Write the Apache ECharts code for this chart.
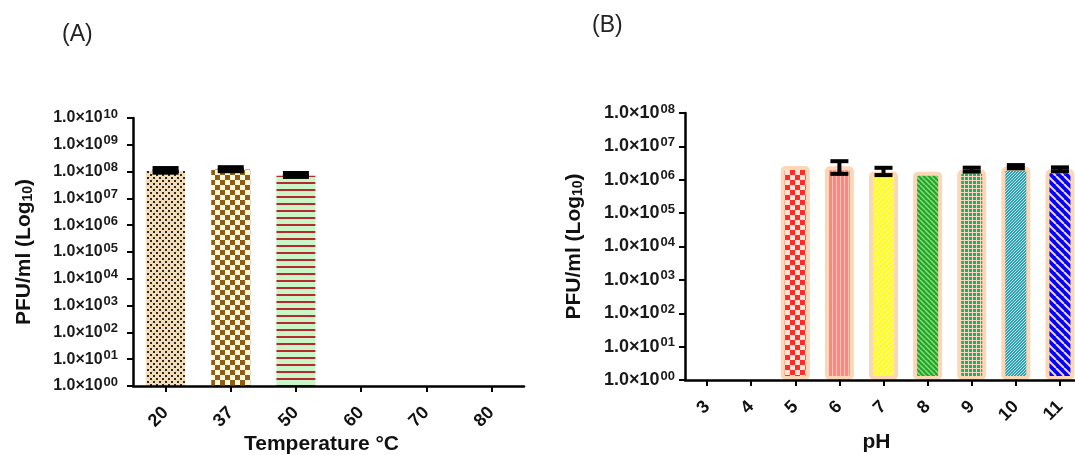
<!DOCTYPE html>
<html>
<head>
<meta charset="utf-8">
<script src="https://cdn.jsdelivr.net/npm/echarts@6/dist/echarts.min.js"></script>
<style>
html, body { margin: 0; padding: 0; background: #fff; }
#chart { width: 1075px; height: 455px; }
</style>
</head>
<body>
<div id="chart"></div>
<script>
// panel A: temperature
var temps = ['20', '37', '50', '60', '70', '80'];
var tempMean = [1.05e8, 1.2e8, 7.0e7, null, null, null];
var tempLow = [9.5e7, 1.08e8, 6.6e7, null, null, null];
var tempHigh = [1.3e8, 1.4e8, 8.5e7, null, null, null];

// panel B: pH
var phs = ['3', '4', '5', '6', '7', '8', '9', '10', '11'];
var phMean = [null, null, 2.6e6, 2.55e6, 1.75e6, 1.75e6, 2.0e6, 2.45e6, 2.05e6];
var phLow = [null, null, null, 1.5e6, 1.38e6, null, 1.75e6, 2.2e6, 1.8e6];
var phHigh = [null, null, null, 3.6e6, 2.28e6, null, 2.3e6, 2.75e6, 2.35e6];

var FONT = '"Liberation Sans", Arial, sans-serif';

// ---- pattern helpers ----
function mk(w, h) {
  var c = document.createElement('canvas');
  c.width = w; c.height = h;
  return c;
}
function checker(cell, c1, c2) {
  var c = mk(cell * 2, cell * 2), g = c.getContext('2d');
  g.fillStyle = c2; g.fillRect(0, 0, cell * 2, cell * 2);
  g.fillStyle = c1;
  g.fillRect(0, 0, cell, cell);
  g.fillRect(cell, cell, cell, cell);
  return c;
}
function dots(step, r, bg, fg) {
  var c = mk(step * 2, step * 2), g = c.getContext('2d');
  g.fillStyle = bg; g.fillRect(0, 0, step * 2, step * 2);
  g.fillStyle = fg;
  g.fillRect(0, 0, r, r);
  g.fillRect(step, step, r, r);
  return c;
}
function hstripes(step, lw, bg, fg) {
  var c = mk(4, step), g = c.getContext('2d');
  g.fillStyle = bg; g.fillRect(0, 0, 4, step);
  g.fillStyle = fg; g.fillRect(0, 0, 4, lw);
  return c;
}
function vstripes(step, lw, bg, fg) {
  var c = mk(step, 4), g = c.getContext('2d');
  g.fillStyle = bg; g.fillRect(0, 0, step, 4);
  g.fillStyle = fg; g.fillRect(0, 0, lw, 4);
  return c;
}
function grid2(step, lw, bg, fg) {
  var c = mk(step, step), g = c.getContext('2d');
  g.fillStyle = bg; g.fillRect(0, 0, step, step);
  g.fillStyle = fg;
  g.fillRect(0, 0, step, lw);
  g.fillRect(0, 0, lw, step);
  return c;
}
function diag(step, lw, bg, fg, back) {
  var c = mk(step, step), g = c.getContext('2d');
  g.fillStyle = bg; g.fillRect(0, 0, step, step);
  g.strokeStyle = fg; g.lineWidth = lw;
  for (var k = -1; k <= 1; k++) {
    g.beginPath();
    if (back) { g.moveTo(k * step, 0); g.lineTo(k * step + step, step); }
    else { g.moveTo(k * step, step); g.lineTo(k * step + step, 0); }
    g.stroke();
  }
  return c;
}
function pat(c) { return { image: c, repeat: 'repeat' }; }

var tempFills = [
  pat(dots(3, 2, '#f4dcb6', '#2a2a2a')),
  pat(checker(5, '#8f5c12', '#fff8de')),
  pat(hstripes(7, 2, '#c9f5c9', '#b52a2a'))
];
var phFills = [
  null, null,
  pat(checker(5, '#ff2b2b', '#ffe2d0')),
  pat(vstripes(4, 1, '#ff8585', '#ffc4b4')),
  pat(diag(5, 1.5, '#ffff10', '#fff4a0', false)),
  pat(diag(5, 1.5, '#1ea81e', '#8ed88e', true)),
  pat(grid2(4, 1, '#14b36a', '#f4d8c0')),
  pat(diag(3, 1, '#2da2b4', '#bfe0e0', false)),
  pat(diag(8, 2, '#0000ff', '#f6d8b8', true))
];

function pad2(e) { return e < 10 ? '0' + e : '' + e; }
function yLabel(v) {
  var e = Math.round(Math.log10(v));
  return '{b|1.0×10}{s|' + pad2(e) + '}';
}

function barData(vals, fills, peach) {
  return vals.map(function (v, i) {
    if (v == null) return '-';
    var it = { value: v, itemStyle: { color: fills[i] } };
    if (peach) {
      it.itemStyle.borderColor = '#fcd7b6';
      it.itemStyle.borderWidth = 4;
      it.itemStyle.borderRadius = 3;
    }
    return it;
  });
}
function errData(low, high) {
  var out = [];
  for (var i = 0; i < low.length; i++) {
    if (low[i] != null) out.push([i, low[i], high[i]]);
  }
  return out;
}
function errRender(halfW, capW, stemW) {
  return function (params, api) {
    var x = api.value(0);
    var lo = api.coord([x, api.value(1)]);
    var hi = api.coord([x, api.value(2)]);
    var st = { stroke: '#000', lineWidth: capW };
    return {
      type: 'group',
      children: [
        { type: 'line', shape: { x1: lo[0], y1: lo[1], x2: hi[0], y2: hi[1] },
          style: { stroke: '#000', lineWidth: stemW } },
        { type: 'line', shape: { x1: hi[0] - halfW, y1: hi[1], x2: hi[0] + halfW, y2: hi[1] }, style: st },
        { type: 'line', shape: { x1: lo[0] - halfW, y1: lo[1], x2: lo[0] + halfW, y2: lo[1] }, style: st }
      ]
    };
  };
}

function yAxisCfg(gi, max, fs, ss, margin, nameGap) {
  return {
    gridIndex: gi,
    type: 'log',
    logBase: 10,
    min: 1,
    max: max,
    interval: 1,
    name: '{n|PFU/ml (Log}{sub|10}{n|)}',
    nameLocation: 'middle',
    nameGap: nameGap,
    nameRotate: 90,
    nameTextStyle: {
      rich: {
        n: { fontFamily: FONT, fontWeight: 'bold', fontSize: 21, color: '#111' },
        sub: { fontFamily: FONT, fontWeight: 'bold', fontSize: 14, color: '#111', padding: [8, 0, 0, 0] }
      }
    },
    axisLine: { show: true, lineStyle: { color: '#000', width: 2.5 } },
    axisTick: { show: true, length: 6, lineStyle: { color: '#000', width: 2 } },
    splitLine: { show: false },
    minorTick: { show: false },
    axisLabel: {
      margin: margin,
      formatter: yLabel,
      rich: {
        b: { fontFamily: FONT, fontWeight: 'bold', fontSize: fs, color: '#1a1a1a', lineHeight: 20 },
        s: { fontFamily: FONT, fontWeight: 'bold', fontSize: ss, color: '#1a1a1a', lineHeight: 20, padding: [0, 0, 8, 1] }
      }
    }
  };
}
function xAxisCfg(gi, cats, name, nameGap, margin) {
  return {
    gridIndex: gi,
    type: 'category',
    data: cats,
    z: 10,
    name: name,
    nameLocation: 'middle',
    nameGap: nameGap,
    nameMoveOverlap: false,
    nameTextStyle: {
      fontFamily: FONT, fontWeight: 'bold', fontSize: 21, color: '#111',
      padding: [0, 14, 0, 0]
    },
    axisLine: { show: true, lineStyle: { color: '#000', width: 2.5 } },
    axisTick: { show: true, alignWithLabel: true, length: 6, lineStyle: { color: '#000', width: 2 } },
    axisLabel: {
      rotate: 45, margin: margin, interval: 0,
      fontFamily: FONT, fontWeight: 'bold', fontSize: 18, color: '#111'
    },
    splitLine: { show: false }
  };
}

var chart = echarts.init(document.getElementById('chart'));
var option = {
  backgroundColor: '#fff',
  animation: false,
  title: [
    { text: '(A)', left: 57, top: 18, textStyle: { fontFamily: FONT, fontWeight: 'normal', fontSize: 23, color: '#222' } },
    { text: '(B)', left: 587, top: 9, textStyle: { fontFamily: FONT, fontWeight: 'normal', fontSize: 23, color: '#222' } }
  ],
  grid: [
    { left: 133, top: 118, width: 391, height: 268, outerBoundsMode: 'none' },
    { left: 685, top: 113, width: 397, height: 267, outerBoundsMode: 'none' }
  ],
  xAxis: [
    xAxisCfg(0, temps, 'Temperature °C', 48, 24),
    xAxisCfg(1, phs, 'pH', 52, 24)
  ],
  yAxis: [
    yAxisCfg(0, 1e10, 16, 13, 15, 98),
    yAxisCfg(1, 1e8, 18, 13, 10, 100)
  ],
  series: [
    {
      type: 'bar', xAxisIndex: 0, yAxisIndex: 0, barWidth: 39,
      data: barData(tempMean, tempFills, false)
    },
    {
      type: 'custom', xAxisIndex: 0, yAxisIndex: 0, z: 5,
      renderItem: errRender(13, 5, 4),
      data: errData(tempLow, tempHigh)
    },
    {
      type: 'bar', xAxisIndex: 1, yAxisIndex: 1, barWidth: 29,
      data: barData(phMean, phFills, true)
    },
    {
      type: 'custom', xAxisIndex: 1, yAxisIndex: 1, z: 5,
      renderItem: errRender(9, 4, 4),
      data: errData(phLow, phHigh)
    }
  ]
};
chart.setOption(option);
</script>
</body>
</html>
